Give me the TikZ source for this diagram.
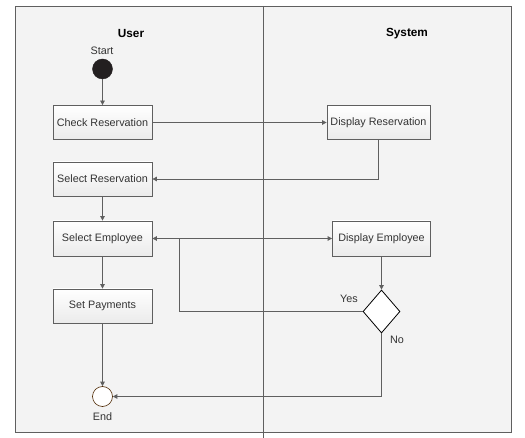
\documentclass[tikz,border=0pt]{standalone}
\usepackage{fontspec}
\setmainfont{Liberation Sans}
\usetikzlibrary{shapes.geometric,arrows.meta}
\definecolor{linec}{HTML}{5F5F5F}
\definecolor{bgc}{HTML}{F3F3F3}
\definecolor{txtc}{HTML}{333333}
\definecolor{dotc}{HTML}{231F20}
\tikzset{
  actbox/.style={draw=linec, line width=0.8pt, top color=white, bottom color=black!8, minimum height=34pt, inner sep=0pt, font=\fontsize{10.8}{12}\selectfont, text=txtc},
  conn/.style={draw=linec, line width=0.8pt, -{Triangle[width=4.5pt,length=4.5pt]}},
  lbl/.style={font=\fontsize{10.8}{12}\selectfont, text=txtc, inner sep=0pt},
  ttl/.style={font=\fontsize{11.8}{13}\selectfont\bfseries, text=black, inner sep=0pt},
}
\begin{document}
\begin{tikzpicture}[x=1pt,y=-1pt]
\useasboundingbox (0,0) rectangle (525,438);
\fill[white] (0,0) rectangle (525,438);
\draw[linec, line width=0.8pt, fill=bgc] (15,6) rectangle (511,432);
\draw[linec, line width=0.8pt] (263,6) -- (263,438);
\node[ttl] (user) at (131,33.5) {User};
\node[ttl] (sys) at (407,33.5) {System};
\node[lbl] (startl) at (102,51) {Start};
\node[circle, fill=dotc, draw=dotc, minimum size=20pt, inner sep=0pt] (start) at (102.5,69) {};
\node[actbox, minimum width=99pt] (check) at (102.5,122.5) {Check Reservation};
\node[actbox, minimum width=103pt] (dispres) at (378.5,122.5) {Display Reservation};
\node[actbox, minimum width=99pt] (selres) at (102.5,179) {Select Reservation};
\node[actbox, minimum width=99pt, minimum height=35pt] (selemp) at (102.5,238.5) {Select Employee};
\node[actbox, minimum width=98pt, minimum height=35pt] (dispemp) at (381.5,238.5) {Display Employee};
\node[actbox, minimum width=99pt] (setpay) at (102.5,306) {Set Payments};
\node[diamond, draw=black, line width=0.8pt, fill=white, minimum width=37pt, minimum height=43pt, inner sep=0pt] (dec) at (381.5,311.5) {};
\node[circle, draw=black!70!orange, fill=white, line width=0.6pt, minimum size=20pt, inner sep=0pt] (end) at (102.5,396.5) {};
\node[lbl] (endl) at (102.5,417) {End};
\node[lbl] (yes) at (349,299) {Yes};
\node[lbl] (no) at (397,340) {No};
\coordinate (yc) at (179,238.5);
\draw[conn] (start) -- (check);
\draw[conn] (check) -- (dispres);
\draw[conn] (dispres.south) |- (selres.east);
\draw[conn] (selres) -- (selemp);
\draw[conn] (selemp) -- (setpay);
\draw[conn] (selemp.east) -- (dispemp.west);
\draw[conn] (dispemp) -- (dec);
\draw[conn] (dec.west) -| (yc) -- (selemp.east);
\draw[conn] (dec.south) |- (end.east);
\draw[conn] (setpay) -- (end);
\end{tikzpicture}
\end{document}
